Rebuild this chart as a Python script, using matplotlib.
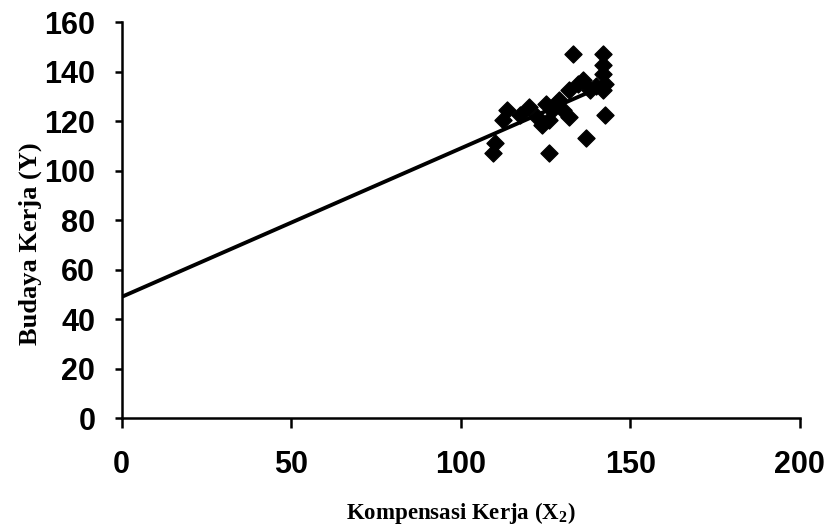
import matplotlib
matplotlib.use("Agg")
import matplotlib.pyplot as plt
import numpy as np

plt.rcParams["mathtext.fontset"] = "custom"
plt.rcParams["mathtext.rm"] = "Liberation Serif"
plt.rcParams["mathtext.bf"] = "Liberation Serif:bold"

# observed points: Kompensasi Kerja (X2) vs Budaya Kerja (Y)
x2 = [109.5, 110, 113.6, 112.4, 117.4, 120, 122.4, 124, 125, 126, 126, 127,
      128, 129, 130, 132, 132, 133, 134.5, 136, 137, 138, 140, 142, 142, 142,
      142.5, 142, 142.5]
y = [107, 111, 124.4, 120.4, 122.4, 125.6, 121.6, 118.4, 127, 120.4, 107, 124.4,
     127, 128.5, 124.4, 121.6, 132.5, 147, 135, 136.6, 113, 132.5, 134, 147,
     142.6, 139, 135, 132.5, 122.4]

# fitted regression line
intercept = 49.0
slope = 0.6
line_x = [0, 143]

xticks = [0, 50, 100, 150, 200]
yticks = [0, 20, 40, 60, 80, 100, 120, 140, 160]

fig = plt.figure(figsize=(8.28, 5.26), dpi=100)
ax = fig.add_axes([0.147, 0.205, 0.819, 0.753])

lx = np.array(line_x)
ax.plot(lx, intercept + slope * lx, color="black", lw=2.8, zorder=2)
ax.scatter(x2, y, marker="D", s=75, color="black", zorder=3)

ax.set_xlim(0, 200)
ax.set_ylim(0, 160)
ax.set_xticks(xticks)
ax.set_yticks(yticks)

for side in ("top", "right"):
    ax.spines[side].set_visible(False)
for side in ("left", "bottom"):
    ax.spines[side].set_linewidth(1.8)

ax.tick_params(axis="x", direction="out", length=7, width=1.8, pad=16,
               labelsize=22)
ax.tick_params(axis="y", direction="out", length=5, width=1.8, pad=14,
               labelsize=22)
for lab in ax.get_xticklabels() + ax.get_yticklabels():
    lab.set_fontfamily("Liberation Sans")
    lab.set_fontweight("bold")

ax.set_xlabel("Kompensasi Kerja (X$_\\mathbf{2}$)", fontfamily="Liberation Serif",
              fontweight="bold", fontsize=16.5, labelpad=14)
ax.set_ylabel("Budaya Kerja (Y)", fontfamily="Liberation Serif",
              fontweight="bold", fontsize=19)
ax.yaxis.set_label_coords(-0.118, 0.44)

fig.savefig("out.png", dpi=100, facecolor="white")
